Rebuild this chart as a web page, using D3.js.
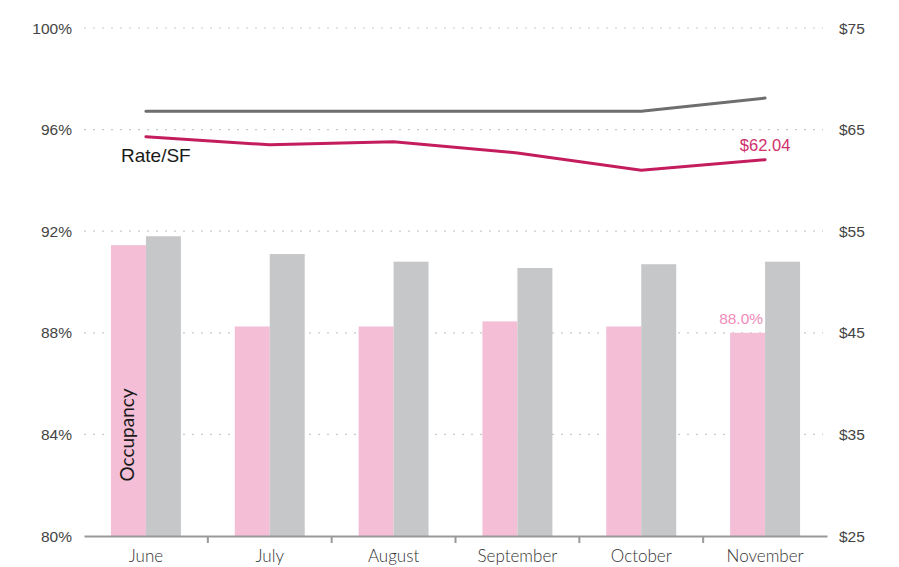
<!DOCTYPE html>
<html>
<head>
<meta charset="utf-8">
<script src="https://cdn.jsdelivr.net/npm/d3@7"></script>
<style>
  body { margin: 0; background: #fff; }
  svg { display: block; }
</style>
</head>
<body>
<div id="chart"></div>
<script>
var months = ['June', 'July', 'August', 'September', 'October', 'November'];
var occupancy = [91.45, 88.25, 88.25, 88.45, 88.25, 88.0];
var occupancyMarket = [91.8, 91.1, 90.8, 90.55, 90.7, 90.8];
var rate = [64.3, 63.5, 63.8, 62.7, 61.0, 62.04];
var rateMarket = [66.8, 66.8, 66.8, 66.8, 66.8, 68.1];
var leftTicks = [80, 84, 88, 92, 96, 100];
var rightTicks = [25, 35, 45, 55, 65, 75];

var width = 899, height = 567;
var plotLeft = 84, plotRight = 827, plotTop = 28, plotBottom = 536;

var svg = d3.select('#chart').append('svg')
    .attr('width', width)
    .attr('height', height);

var x = d3.scaleBand()
    .domain(months)
    .range([plotLeft, plotRight]);

var sub = d3.scaleBand()
    .domain(['occ', 'mkt'])
    .range([0, x.bandwidth()])
    .paddingOuter(0.77);

var yL = d3.scaleLinear().domain([80, 100]).range([plotBottom, plotTop]);
var yR = d3.scaleLinear().domain([25, 75]).range([plotBottom, plotTop]);

// dotted grid
svg.append('g').selectAll('line')
    .data(leftTicks.slice(1))
    .enter().append('line')
    .attr('x1', plotLeft).attr('x2', 823)
    .attr('y1', d => yL(d)).attr('y2', d => yL(d))
    .attr('stroke', '#c9c9c9')
    .attr('stroke-width', 1.2)
    .attr('stroke-dasharray', '2,7');

// left axis labels
svg.append('g').selectAll('text')
    .data(leftTicks)
    .enter().append('text')
    .attr('x', 72)
    .attr('y', d => yL(d) + 5.5)
    .attr('text-anchor', 'end')
    .attr('font-family', 'Liberation Sans, Arial, sans-serif')
    .attr('font-size', 15.5)
    .attr('fill', '#444')
    .text(d => d + '%');

// right axis labels
svg.append('g').selectAll('text')
    .data(rightTicks)
    .enter().append('text')
    .attr('x', 839)
    .attr('y', d => yR(d) + 5.5)
    .attr('font-family', 'Liberation Sans, Arial, sans-serif')
    .attr('font-size', 15.5)
    .attr('fill', '#444')
    .text(d => '$' + d);

// bars
var bars = svg.append('g');
bars.selectAll('rect.occ')
    .data(occupancy)
    .enter().append('rect')
    .attr('class', 'occ')
    .attr('x', (d, i) => x(months[i]) + sub('occ'))
    .attr('width', sub.bandwidth())
    .attr('y', d => yL(d))
    .attr('height', d => plotBottom - yL(d))
    .attr('fill', '#f3bed6');

bars.selectAll('rect.mkt')
    .data(occupancyMarket)
    .enter().append('rect')
    .attr('class', 'mkt')
    .attr('x', (d, i) => x(months[i]) + sub('mkt'))
    .attr('width', sub.bandwidth())
    .attr('y', d => yL(d))
    .attr('height', d => plotBottom - yL(d))
    .attr('fill', '#c6c7c9');

// x axis
var xAxis = d3.axisBottom(x).tickSize(0).tickPadding(16);
var gx = svg.append('g')
    .attr('transform', 'translate(0,' + plotBottom + ')')
    .call(xAxis);
gx.select('.domain').attr('stroke', '#999').attr('stroke-width', 2.2);
gx.selectAll('.tick text')
    .attr('font-family', 'Lato, sans-serif')
    .attr('font-weight', 300)
    .attr('font-size', 17)
    .attr('fill', '#333')
    .attr('dy', '0.6em');

svg.append('g').selectAll('line')
    .data(months.slice(1))
    .enter().append('line')
    .attr('x1', d => x(d)).attr('x2', d => x(d))
    .attr('y1', plotBottom).attr('y2', plotBottom + 7)
    .attr('stroke', '#999')
    .attr('stroke-width', 2);

// lines
var line = d3.line()
    .x((d, i) => x(months[i]) + x.bandwidth() / 2)
    .y(d => yR(d));

svg.append('path')
    .datum(rateMarket)
    .attr('d', line)
    .attr('fill', 'none')
    .attr('stroke', '#6e6e6e')
    .attr('stroke-width', 3)
    .attr('stroke-linecap', 'round');

svg.append('path')
    .datum(rate)
    .attr('d', line)
    .attr('fill', 'none')
    .attr('stroke', '#c41d5d')
    .attr('stroke-width', 3)
    .attr('stroke-linecap', 'round');

// labels
var last = months.length - 1;
svg.append('text')
    .attr('x', x(months[last]) + x.bandwidth() / 2)
    .attr('y', yR(rate[last]) - 9)
    .attr('text-anchor', 'middle')
    .attr('font-family', 'Liberation Sans, Arial, sans-serif')
    .attr('font-size', 16.5)
    .attr('fill', '#cf2f6c')
    .text('$' + rate[last].toFixed(2));

svg.append('text')
    .attr('x', x(months[last]) + sub('occ') + sub.bandwidth() - 2)
    .attr('y', yL(occupancy[last]) - 9)
    .attr('text-anchor', 'end')
    .attr('font-family', 'Liberation Sans, Arial, sans-serif')
    .attr('font-size', 15.5)
    .attr('fill', '#f08cb9')
    .text(occupancy[last].toFixed(1) + '%');

svg.append('text')
    .attr('x', 121)
    .attr('y', 162)
    .attr('font-family', 'Liberation Sans, Arial, sans-serif')
    .attr('font-size', 19)
    .attr('fill', '#1a1a1a')
    .text('Rate/SF');

svg.append('text')
    .attr('transform', 'translate(134,435) rotate(-90)')
    .attr('text-anchor', 'middle')
    .attr('font-family', 'Lato, sans-serif')
    .attr('font-size', 19)
    .attr('fill', '#1a1a1a')
    .text('Occupancy');
</script>
</body>
</html>
